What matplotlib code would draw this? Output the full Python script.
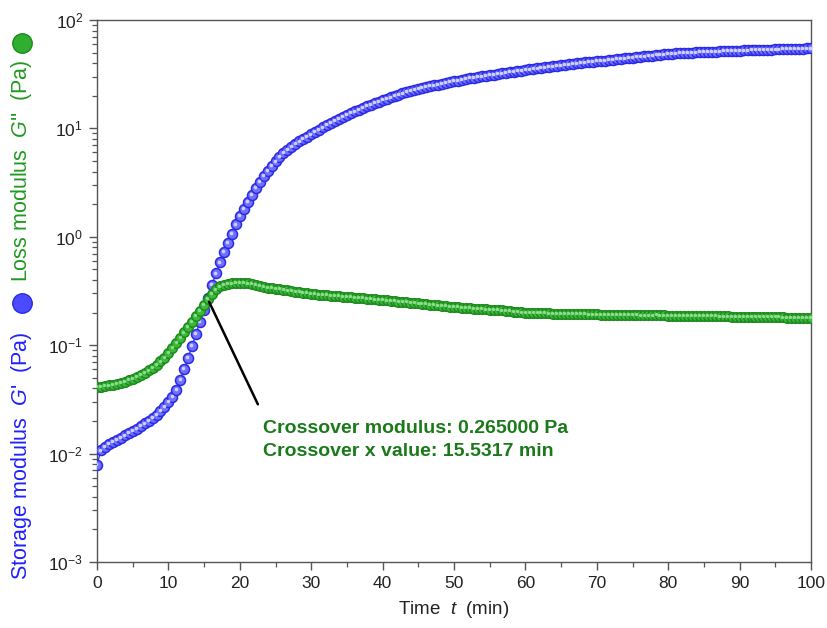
import numpy as np
import matplotlib
matplotlib.use("Agg")
import matplotlib.pyplot as plt
from matplotlib.lines import Line2D
from matplotlib.transforms import offset_copy
from matplotlib.ticker import LogLocator, MultipleLocator, FixedLocator

plt.rcParams['font.family'] = ['Liberation Sans', 'DejaVu Sans']
plt.rcParams['mathtext.fontset'] = 'custom'
plt.rcParams['mathtext.rm'] = 'Liberation Sans'
plt.rcParams['mathtext.it'] = 'Liberation Sans:italic'

# ---- data ----
time_min = np.linspace(0, 100, 181)

storage_G1 = [
    0.0079, 0.0107, 0.0116, 0.0122, 0.0128, 0.0134, 0.0140, 0.0147, 0.0154, 0.0161,
    0.0170, 0.0180, 0.0190, 0.0200, 0.0213, 0.0228, 0.0246, 0.0268, 0.0298,
    0.0335, 0.039, 0.048, 0.060, 0.077, 0.099, 0.128, 0.165, 0.21, 0.27, 0.36, 0.46,
    0.58, 0.72, 0.88, 1.07, 1.30, 1.55,
    1.82, 2.1, 2.43, 2.82, 3.22, 3.62, 4.05, 4.5, 4.97, 5.45, 5.9, 6.35, 6.8, 7.2,
    7.6, 8.0, 8.4, 8.8,
    9.25, 9.7, 10.2, 10.7, 11.2, 11.7, 12.2, 12.7, 13.25,
    13.8, 14.35, 14.9, 15.45, 16.0, 16.55, 17.1, 17.65, 18.2,
    18.8, 19.35, 19.9, 20.45, 21.0, 21.55, 22.05, 22.55, 23.05,
    23.55, 24.05, 24.5, 24.95, 25.4, 25.85, 26.3, 26.75, 27.2,
    27.65, 28.1, 28.55, 29.0, 29.4, 29.8, 30.2, 30.6, 31.0,
    31.4, 31.8, 32.2, 32.6, 33.0, 33.4, 33.8, 34.2, 34.6,
    35.0, 35.4, 35.8, 36.2, 36.6, 37.0, 37.4, 37.8, 38.2,
    38.6, 39.0, 39.4, 39.8, 40.2, 40.55, 40.9, 41.25, 41.6,
    41.95, 42.3, 42.65, 43.0, 43.4, 43.8, 44.2, 44.6, 45.0,
    45.4, 45.8, 46.2, 46.6, 47.0, 47.4, 47.8, 48.15, 48.5,
    48.8, 49.1, 49.35, 49.6, 49.8, 50.0, 50.2, 50.4, 50.6,
    50.8, 51.0, 51.2, 51.35, 51.5, 51.7, 51.85, 52.0, 52.2,
    52.35, 52.5, 52.65, 52.8, 52.95, 53.1, 53.25, 53.4, 53.5,
    53.65, 53.8, 53.9, 54.05, 54.2, 54.3, 54.45, 54.6, 54.8,
]

loss_G2 = [
    0.0410, 0.0415, 0.0420, 0.0425, 0.0432, 0.0440, 0.0450, 0.0462, 0.0475, 0.0490,
    0.0508, 0.0530, 0.0555, 0.0585, 0.0618, 0.066, 0.071, 0.077, 0.085,
    0.094, 0.105, 0.117, 0.131, 0.147, 0.165, 0.185, 0.207, 0.235, 0.266, 0.298, 0.327,
    0.348, 0.360, 0.367, 0.371, 0.373, 0.374,
    0.373, 0.371, 0.366, 0.360, 0.352, 0.345, 0.340, 0.336, 0.332, 0.328, 0.324, 0.320,
    0.316, 0.312, 0.308, 0.305, 0.302, 0.299,
    0.296, 0.293, 0.291, 0.289, 0.287, 0.285, 0.283, 0.281, 0.279, 0.277, 0.275, 0.273,
    0.271, 0.269, 0.267, 0.265, 0.263, 0.261,
    0.259, 0.257, 0.255, 0.253, 0.251, 0.249, 0.247, 0.245, 0.243, 0.241, 0.239, 0.237,
    0.235, 0.233, 0.231, 0.229, 0.227, 0.225,
    0.224, 0.222, 0.221, 0.220, 0.218, 0.217, 0.216, 0.214, 0.213, 0.212, 0.210, 0.209,
    0.207, 0.206, 0.204, 0.203, 0.201, 0.200,
    0.1995, 0.199, 0.198, 0.1975, 0.197, 0.1965, 0.196, 0.1955, 0.195, 0.1945, 0.194,
    0.194, 0.1935, 0.193, 0.193, 0.1925, 0.192, 0.192,
    0.1915, 0.191, 0.191, 0.1905, 0.190, 0.190, 0.1895, 0.189, 0.189, 0.189, 0.1885,
    0.188, 0.188, 0.1885, 0.189, 0.1885, 0.188, 0.1875,
    0.187, 0.187, 0.1865, 0.186, 0.186, 0.1855, 0.185, 0.185, 0.1855, 0.186, 0.1855,
    0.185, 0.1845, 0.184, 0.184, 0.1835, 0.183, 0.183,
    0.1825, 0.182, 0.182, 0.1815, 0.181, 0.181, 0.1815, 0.182, 0.1815, 0.181, 0.1805,
    0.180, 0.180, 0.1795, 0.179, 0.179, 0.1795, 0.179,
]

crossover_t = 15.5317
crossover_G = 0.265
x_ticks = [0, 10, 20, 30, 40, 50, 60, 70, 80, 90, 100]
y_ticks = [1e-3, 1e-2, 1e-1, 1e0, 1e1, 1e2]

# ---- figure ----
fig = plt.figure(figsize=(8.27, 6.28), dpi=100)
ax = fig.add_axes([97/827, 1 - 562/628, (811-97)/827, (562-20)/628])

blue_edge = '#2a2ae6'
blue_face = '#7070ff'
green_edge = '#1c8a1c'
green_face = '#3cb83c'

hl = offset_copy(ax.transData, fig=fig, x=-0.8, y=0.8, units='dots')

ax.plot(time_min, storage_G1, '-', color='#3030ff', lw=1.0, zorder=2)
ax.plot(time_min, storage_G1, 'o', ms=7.2, mfc=blue_face, mec=blue_edge, mew=1.1, zorder=3)
ax.plot(time_min, storage_G1, 'o', ms=2.6, mfc='#d0d0ff', mec='none', zorder=3.1, transform=hl)

ax.plot(time_min, loss_G2, '-', color='#1c8a1c', lw=1.0, zorder=4)
ax.plot(time_min, loss_G2, 'o', ms=6.9, mfc=green_face, mec=green_edge, mew=1.1, zorder=5)
ax.plot(time_min, loss_G2, 'o', ms=2.4, mfc='#8fdc8f', mec='none', zorder=5.1, transform=hl)

ax.set_yscale('log')
ax.set_xlim(0, 100)
ax.set_ylim(1e-3, 1e2)
ax.xaxis.set_major_locator(FixedLocator(x_ticks))
ax.xaxis.set_minor_locator(MultipleLocator(5))
ax.yaxis.set_major_locator(FixedLocator(y_ticks))
ax.yaxis.set_minor_locator(LogLocator(base=10, subs=np.arange(2, 10), numticks=20))

for s in ax.spines.values():
    s.set_color('#555555')
    s.set_linewidth(1.0)
ax.tick_params(which='both', direction='out', colors='#555555', labelcolor='#222222',
               top=False, right=False)
ax.tick_params(which='major', length=6, width=1.0, labelsize=12.5, pad=4)
ax.tick_params(which='minor', length=3.5, width=0.9)

ax.set_xlabel(r'Time  $t$  (min)', fontsize=13.5, color='#222222', labelpad=6)

# two-coloured y label
fig.text(22/827, 1 - 456/628, r"Storage modulus  $G$'  (Pa)", rotation=90, color='#2020ff',
         fontsize=15.5, ha='center', va='center')
fig.add_artist(Line2D([22/827], [1 - 303/628], marker='o', ms=14, mfc='#4a4aff', mec='#2a2ae6',
                      transform=fig.transFigure))
fig.text(22/827, 1 - 171/628, r"Loss modulus  $G$''  (Pa)", rotation=90, color='#1f9a1f',
         fontsize=15.5, ha='center', va='center')
fig.add_artist(Line2D([22/827], [1 - 43/628], marker='o', ms=14, mfc='#2fae2f', mec='#1c8a1c',
                      transform=fig.transFigure))

# crossover annotation
ax.annotate('', xy=(crossover_t, crossover_G), xytext=(22.7, 0.027),
            arrowprops=dict(arrowstyle='-', color='black', lw=1.8), zorder=6)
ax.text(23.2, 0.0172, 'Crossover modulus: 0.265000 Pa', color='#1a7a1a', fontsize=14,
        fontweight='bold', ha='left', va='center')
ax.text(23.2, 0.0104, 'Crossover x value: 15.5317 min', color='#1a7a1a', fontsize=14,
        fontweight='bold', ha='left', va='center')

fig.savefig('out.png', dpi=100)
